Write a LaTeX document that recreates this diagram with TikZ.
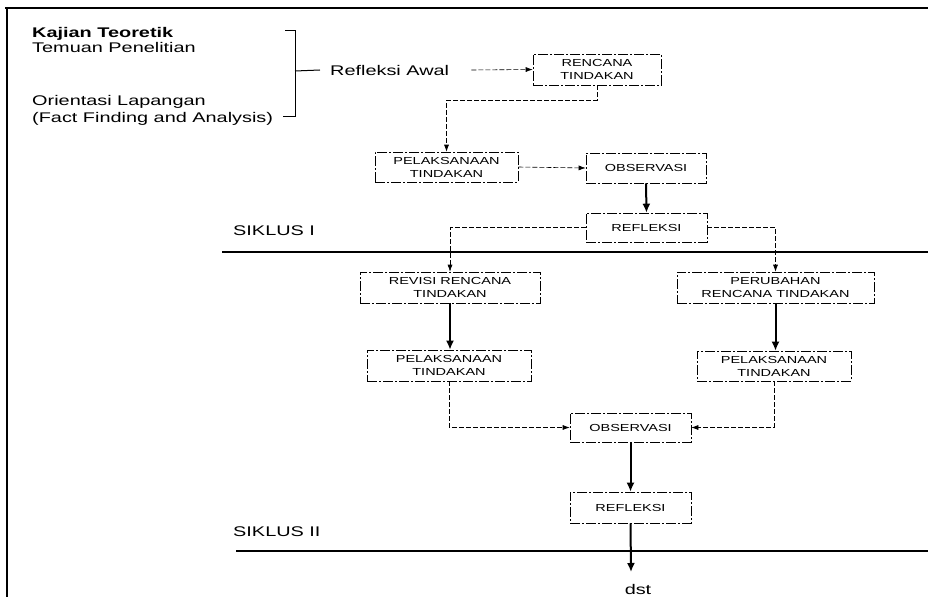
\documentclass[tikz,border=0pt]{standalone}
\usepackage{fontspec}
\setmainfont{Liberation Sans}[FakeStretch=1.42]
\usetikzlibrary{arrows.meta}
\begin{document}
\begin{tikzpicture}[x=1pt,y=-1pt,
 box/.style={draw, line width=0.6pt, dash pattern=on 10pt off 2pt on 2pt off 2pt, align=center, inner sep=0pt, font=\fontsize{10.2}{13}\selectfont},
 link/.style={line width=0.6pt, dash pattern=on 5pt off 2pt, -{Latex[length=7pt,width=5pt]}},
 flow/.style={line width=2pt, -{Latex[length=9pt,width=8pt]}},
 head/.style={font=\fontsize{14}{16}\selectfont, anchor=base west, inner sep=0pt},
 rule/.style={line width=1.3pt}]
\useasboundingbox (0,0) rectangle (928,597);
% frame
\coordinate (tl) at (7,8);
\coordinate (tr) at (928,8);
\coordinate (bl) at (7,597);
\draw[rule] (5,8) -- (tr);
\draw[rule] (tl) -- (bl);
% left texts
\node[head, font=\fontsize{14}{16}\selectfont\bfseries] (kt) at (32,37) {Kajian Teoretik};
\node[head] (tp) at (32,52) {Temuan Penelitian};
\node[head] (ol) at (32,105) {Orientasi Lapangan};
\node[head] (ff) at (32,122) {(Fact Finding and Analysis)};
\node[head] (awal) at (330,75) {Refleksi Awal};
% bracket
\coordinate (b1) at (285,30);
\coordinate (b2) at (295,30);
\coordinate (b3) at (295,116);
\coordinate (b4) at (283,116);
\coordinate (bm) at (295,71);
\draw[line width=1pt] (b1) -- (b2) -- (b3) -- (b4);
\draw[line width=1pt] (bm) -- ([xshift=-10pt]awal.west);
% boxes
\node[box, minimum width=128pt, minimum height=31pt] (ren) at (597,69.5) {RENCANA\\TINDAKAN};
\node[box, minimum width=143pt, minimum height=30pt] (pel1) at (446.5,167) {PELAKSANAAN\\TINDAKAN};
\node[box, minimum width=120pt, minimum height=30pt] (obs1) at (646,168) {OBSERVASI};
\node[box, minimum width=121pt, minimum height=29pt] (ref1) at (646.5,227.5) {REFLEKSI};
\node[box, minimum width=180pt, minimum height=31pt] (rev) at (450,287.5) {REVISI RENCANA\\TINDAKAN};
\node[box, minimum width=197pt, minimum height=31pt] (per) at (775.5,287.5) {PERUBAHAN\\RENCANA TINDAKAN};
\node[box, minimum width=164pt, minimum height=31pt] (pel2) at (449,365.5) {PELAKSANAAN\\TINDAKAN};
\node[box, minimum width=154pt, minimum height=30pt] (pel3) at (774,366) {PELAKSANAAN\\TINDAKAN};
\node[box, minimum width=121pt, minimum height=29pt] (obs2) at (630.5,427.5) {OBSERVASI};
\node[box, minimum width=121pt, minimum height=31pt] (ref2) at (630.5,507.5) {REFLEKSI};
% cycle labels and rules
\node[head] (s1) at (233,235) {SIKLUS I};
\node[head] (s2) at (233,536) {SIKLUS II};
\coordinate (r1a) at (222,252);
\coordinate (r1b) at (928,252);
\coordinate (r2a) at (236,551);
\coordinate (r2b) at (928,551);
\draw[rule] (r1a) -- (r1b);
\draw[line width=1.1pt] (r2a) -- (r2b);
\node[font=\fontsize{14}{16}\selectfont, anchor=base, inner sep=0pt] (dst) at (638,594) {dst};
\coordinate (dstin) at (631,572);
% connectors
\draw[link] ([xshift=22pt]awal.east) -- (ren.west);
\draw[link] (ren.south) -- ++(0,15) -| (pel1.north);
\draw[link] (pel1.east) -- (obs1.west);
\draw[flow] (obs1.south) -- (ref1.north);
\draw[link] (ref1.west) -| (rev.north);
\draw[link] (ref1.east) -| (per.north);
\draw[flow] (rev.south) -- (rev.south |- pel2.north);
\draw[flow] (per.south) -- (per.south |- pel3.north);
\draw[link] (pel2.south) |- (obs2.west);
\draw[link] (pel3.south) |- (obs2.east);
\draw[flow] (obs2.south) -- (ref2.north);
\draw[flow] (ref2.south) -- (dstin);
\end{tikzpicture}
\end{document}
